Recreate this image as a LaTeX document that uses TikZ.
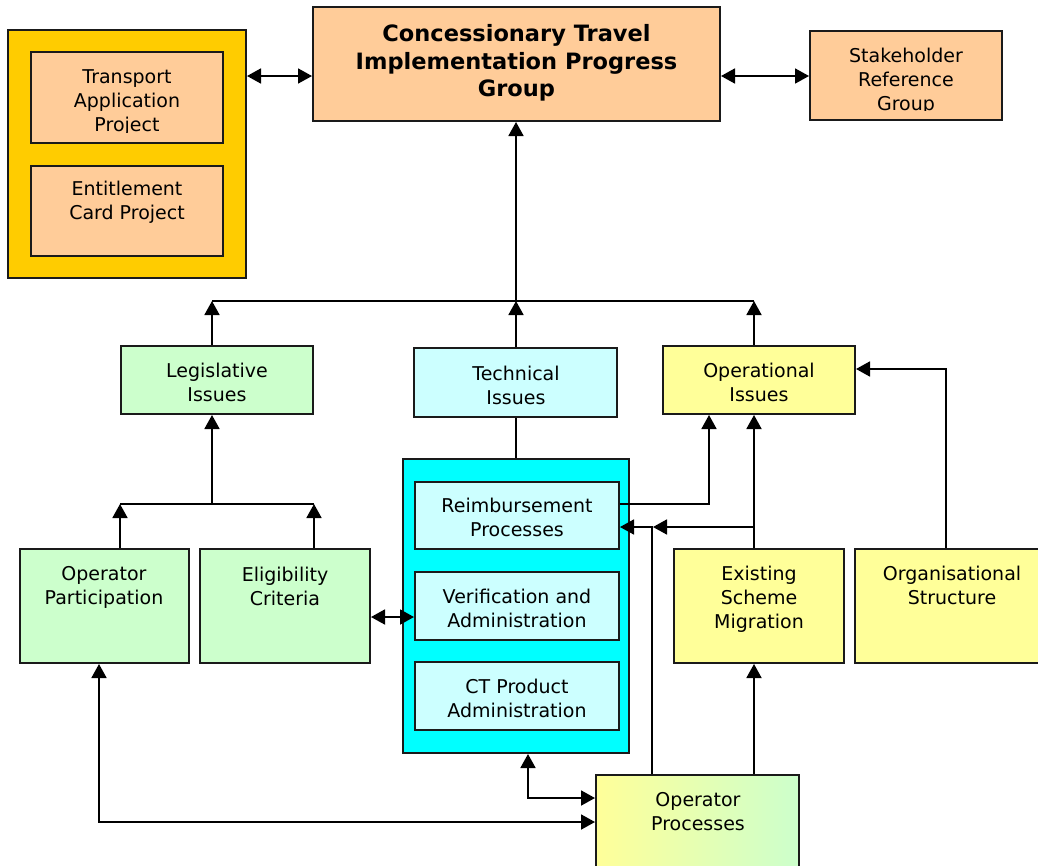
\documentclass[tikz,border=0pt]{standalone}
\usepackage{fontspec}
\setmainfont{DejaVu Sans}
\usetikzlibrary{arrows.meta,calc}
\definecolor{peach}{HTML}{FFCC99}
\definecolor{gold}{HTML}{FFCC00}
\definecolor{lgreen}{HTML}{CCFFCC}
\definecolor{lcyan}{HTML}{CCFFFF}
\definecolor{aqua}{HTML}{00FFFF}
\definecolor{lyellow}{HTML}{FFFF99}
\definecolor{edge}{HTML}{1A1A1A}
\begin{document}
\begin{tikzpicture}[x=1pt,y=-1pt,
  box/.style={draw=edge, line width=2pt, rectangle, inner sep=0pt},
  txt/.style={align=center, font=\fontsize{19}{24}\selectfont, inner sep=0pt, text=black},
  ttl/.style={align=center, font=\bfseries\fontsize{22.5}{27.5}\selectfont, inner sep=0pt},
  conn/.style={line width=1.8pt, draw=black},
  arr/.style={conn, -{Triangle[length=14pt,width=15pt]}},
  dbl/.style={conn, {Triangle[length=14pt,width=15pt]}-{Triangle[length=14pt,width=15pt]}}
]
\useasboundingbox (0,0) rectangle (1038,865);
\clip (0,0) rectangle (1038,865);

% ---------- boxes ----------
\node[box, fill=gold, minimum width=238pt, minimum height=248pt] (projects) at (127,154) {};
\node[box, fill=peach, minimum width=192pt, minimum height=91pt] (tap) at (127,97.5) {};
\node[box, fill=peach, minimum width=192pt, minimum height=90pt] (ecp) at (127,211) {};
\node[box, fill=peach, minimum width=407pt, minimum height=114pt] (ctipg) at (516.5,64) {};
\node[box, fill=peach, minimum width=192pt, minimum height=89pt] (srg) at (906,75.5) {};

\node[box, fill=lgreen, minimum width=192pt, minimum height=68pt] (leg) at (217,380) {};
\node[box, fill=lcyan, minimum width=203pt, minimum height=69pt] (tech) at (515.5,382.5) {};
\node[box, fill=lyellow, minimum width=192pt, minimum height=68pt] (ops) at (759,380) {};

\node[box, fill=lgreen, minimum width=169pt, minimum height=114pt] (opp) at (104.5,606) {};
\node[box, fill=lgreen, minimum width=170pt, minimum height=114pt] (elig) at (285,606) {};

\node[box, fill=aqua, minimum width=226pt, minimum height=294pt] (cyanbox) at (516,606) {};
\node[box, fill=lcyan, minimum width=204pt, minimum height=67pt] (reimb) at (517,515.5) {};
\node[box, fill=lcyan, minimum width=204pt, minimum height=68pt] (verif) at (517,606) {};
\node[box, fill=lcyan, minimum width=204pt, minimum height=68pt] (ctprod) at (517,696) {};

\node[box, fill=lyellow, minimum width=170pt, minimum height=114pt] (esm) at (759,606) {};
\node[box, fill=lyellow, minimum width=195pt, minimum height=114pt] (org) at (952.5,606) {};
\node[box, left color=lyellow, right color=lgreen, minimum width=203pt, minimum height=110pt] (oproc) at (697.5,830) {};

% ---------- texts ----------
\begin{scope}
  \clip (31,53) rectangle (223,132);
  \node[txt] at (127,102.5) {Transport\\Application\\Project};
\end{scope}
\node[txt] at (127,202) {Entitlement\\Card Project};
\node[ttl] at (516.5,63) {Concessionary Travel\\Implementation Progress\\Group};
\begin{scope}
  \clip (810,31) rectangle (1002,110);
  \node[txt] at (906,81) {Stakeholder\\Reference\\Group};
\end{scope}
\node[txt] at (217,382) {Legislative\\Issues};
\node[txt] at (516,385) {Technical\\Issues};
\node[txt] at (759,382) {Operational\\Issues};
\node[txt] at (104,587.5) {Operator\\Participation};
\node[txt] at (285,586) {Eligibility\\Criteria};
\node[txt] at (517,517.5) {Reimbursement\\Processes};
\node[txt] at (517,608) {Verification and\\Administration};
\node[txt] at (517,698) {CT Product\\Administration};
\node[txt] at (759,599.5) {Existing\\Scheme\\Migration};
\node[txt] at (952,585) {Organisational\\Structure};
\node[txt] at (698,812) {Operator\\Processes};

% ---------- connectors ----------
\coordinate (bus) at (516,301);
\coordinate (legbus) at (212,504);
\draw[dbl] (projects.east |- 0,76) -- (ctipg.west |- 0,76);
\draw[dbl] (ctipg.east |- 0,76) -- (srg.west |- 0,76);

\draw[conn] (212,301) -- (754,301);
\draw[arr] (bus) -- (bus |- ctipg.south);
\draw[arr] (leg.north -| legbus) -- (legbus |- bus);
\draw[arr] (tech.north -| bus) -- (bus);
\draw[arr] (ops.north -| 754,0) -- (754,301);

\draw[conn] (leg.west |- legbus) -- (leg.east |- legbus);
\draw[arr] (leg.west |- elig.north) -- (leg.west |- legbus);
\draw[arr] (leg.east |- elig.north) -- (leg.east |- legbus);
\draw[arr] (legbus) -- (legbus |- leg.south);

\draw[dbl] (elig.east |- 0,617) -- (verif.west |- 0,617);
\draw[conn] (tech.south -| bus) -- (cyanbox.north -| bus);

\draw[arr] (reimb.east |- 0,504) -- (709,504) -- (709,0 |- ops.south);
\draw[arr] (esm.north -| 754,0) -- (ops.south -| 754,0);
\draw[arr] (754,527) -- (653,527);
\draw[arr] (oproc.north -| 652,0) -- (652,527) -- (reimb.east |- 0,527);
\draw[arr] (org.north -| 946,0) -- (946,369) -- (ops.east |- 0,369);
\draw[arr] (oproc.north -| 754,0) -- (esm.south -| 754,0);

\draw[dbl] (cyanbox.south -| 528,0) -- (528,798) -- (oproc.west |- 0,798);
\draw[dbl] (opp.south -| 99,0) -- (99,822) -- (oproc.west |- 0,822);
\end{tikzpicture}
\end{document}
